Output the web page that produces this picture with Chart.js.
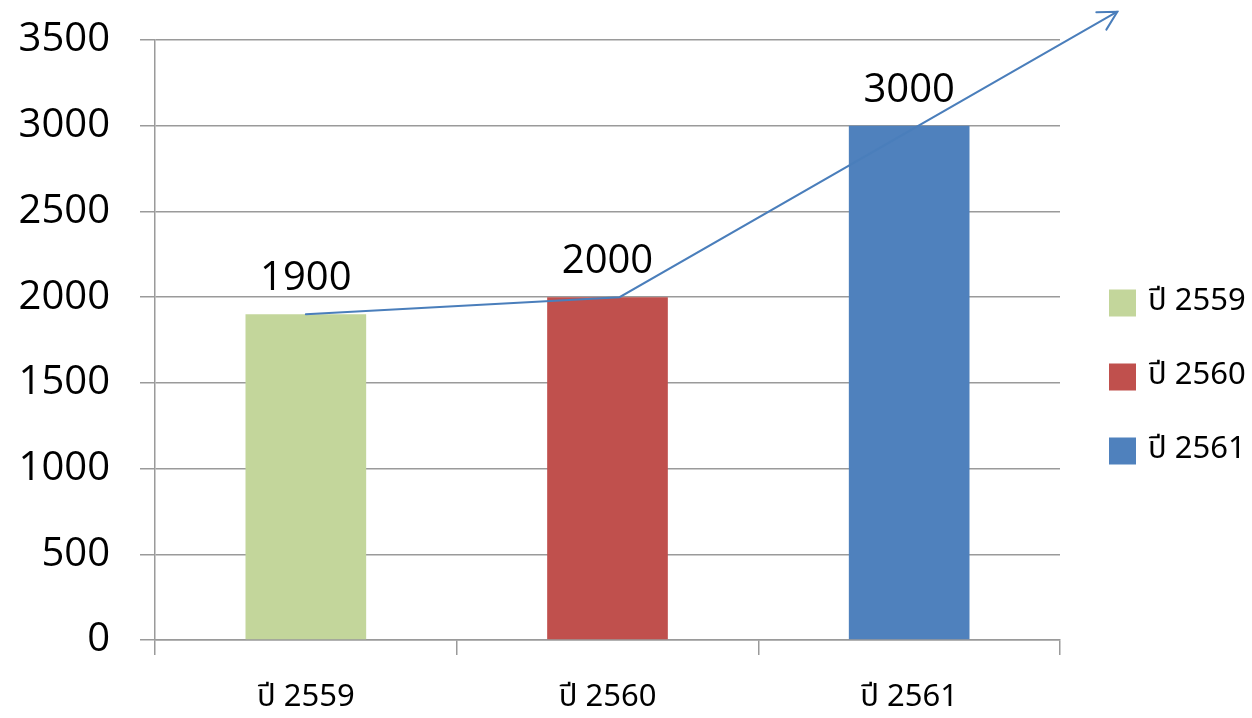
<!DOCTYPE html>
<html lang="th">
  <head>
    <meta charset="UTF-8" />
    <script src="https://cdn.jsdelivr.net/npm/chart.js@4.4.1/dist/chart.umd.min.js"></script>
    <style>
      html, body { margin: 0; padding: 0; background: #fff; }
      #wrap { width: 1252px; height: 718px; }
    </style>
  </head>
  <body>
    <div id="wrap">
      <canvas id="myChart" width="1252" height="718"></canvas>
    </div>

    <script>
      // chart data
      const categories = ["ปี 2559", "ปี 2560", "ปี 2561"];
      const values = [1900, 2000, 3000];
      const barColors = ["#C3D69B", "#C0504D", "#4F81BD"];
      const yTickValues = [0, 500, 1000, 1500, 2000, 2500, 3000, 3500];
      // trend arrow: category position + value
      const arrowIndex = [0, 1.04, 2.69];
      const arrowValue = [1900, 2000, 3665];

      const thaiFont = '"Noto Sans Thai", "Noto Sans", "DejaVu Sans", sans-serif';
      const numFont = '"Open Sans", sans-serif';
      const gridColor = "#9a9a9a";

      // draws value labels, the trend arrow and the legend on the right
      const extras = {
        id: "extras",
        afterDatasetsDraw(chart) {
          const ctx = chart.ctx;
          const x = chart.scales.x;
          const y = chart.scales.y;

          // trend arrow
          const pts = arrowIndex.map((v, i) => [
            x.getPixelForValue(v),
            y.getPixelForValue(arrowValue[i]),
          ]);
          ctx.save();
          ctx.strokeStyle = "#4A7EBB";
          ctx.lineWidth = 2;
          ctx.lineCap = "round";
          ctx.beginPath();
          pts.forEach((p, i) => (i ? ctx.lineTo(p[0], p[1]) : ctx.moveTo(p[0], p[1])));
          ctx.stroke();
          const a = pts[pts.length - 1];
          const b = pts[pts.length - 2];
          const ang = Math.atan2(a[1] - b[1], a[0] - b[0]);
          ctx.beginPath();
          ctx.moveTo(a[0] - 21 * Math.cos(ang - 0.5), a[1] - 21 * Math.sin(ang - 0.5));
          ctx.lineTo(a[0], a[1]);
          ctx.lineTo(a[0] - 21 * Math.cos(ang + 0.5), a[1] - 21 * Math.sin(ang + 0.5));
          ctx.stroke();
          ctx.restore();

          // value labels above bars
          ctx.save();
          ctx.fillStyle = "#000";
          ctx.font = "40px " + numFont;
          ctx.textAlign = "center";
          ctx.textBaseline = "alphabetic";
          chart.data.datasets.forEach((ds, i) => {
            const bar = chart.getDatasetMeta(i).data[i];
            ctx.fillText(String(ds.data[i]), bar.x, bar.y - 24);
          });
          ctx.restore();
        },
        afterDraw(chart) {
          const ctx = chart.ctx;
          ctx.save();
          ctx.font = "31px " + thaiFont;
          ctx.textBaseline = "middle";
          chart.data.datasets.forEach((ds, i) => {
            const cy = 303 + i * 74;
            ctx.fillStyle = ds.backgroundColor;
            ctx.fillRect(1109, cy - 13.5, 27, 27);
            ctx.fillStyle = "#000";
            ctx.fillText(ds.label, 1148, cy + 1);
          });
          ctx.restore();
        },
      };

      const ctx = document.getElementById("myChart").getContext("2d");
      const myChart = new Chart(ctx, {
        type: "bar",
        data: {
          labels: categories,
          datasets: categories.map((c, i) => ({
            label: c,
            data: values.map((v, j) => (j === i ? v : null)),
            backgroundColor: barColors[i],
            barPercentage: 0.4,
            categoryPercentage: 1,
            grouped: false,
          })),
        },
        options: {
          responsive: false,
          animation: false,
          devicePixelRatio: 1,
          layout: {
            padding: { top: 40, right: 192, bottom: 0, left: 0 },
          },
          plugins: {
            legend: { display: false },
            tooltip: { enabled: false },
          },
          scales: {
            y: {
              min: 0,
              max: 3500,
              afterFit: (scale) => {
                scale.width = 155;
                scale.paddingTop = 0;
                scale.paddingBottom = 0;
              },
              afterBuildTicks: (scale) => {
                scale.ticks = yTickValues.map((v) => ({ value: v }));
              },
              border: { color: gridColor, width: 1.5 },
              grid: {
                color: gridColor,
                lineWidth: 1.5,
                tickLength: 15,
              },
              ticks: {
                padding: 30,
                color: "#000",
                font: { family: numFont, size: 40 },
                callback: (v) => String(v),
              },
            },
            x: {
              afterFit: (scale) => {
                scale.height = 78;
                scale.paddingLeft = 0;
                scale.paddingRight = 0;
              },
              border: { color: gridColor, width: 1.5 },
              grid: {
                offset: true,
                drawOnChartArea: false,
                color: gridColor,
                lineWidth: 1.5,
                tickLength: 15,
              },
              ticks: {
                padding: 26,
                color: "#000",
                font: { family: thaiFont, size: 31 },
              },
            },
          },
        },
        plugins: [extras],
      });
    </script>
  </body>
</html>
